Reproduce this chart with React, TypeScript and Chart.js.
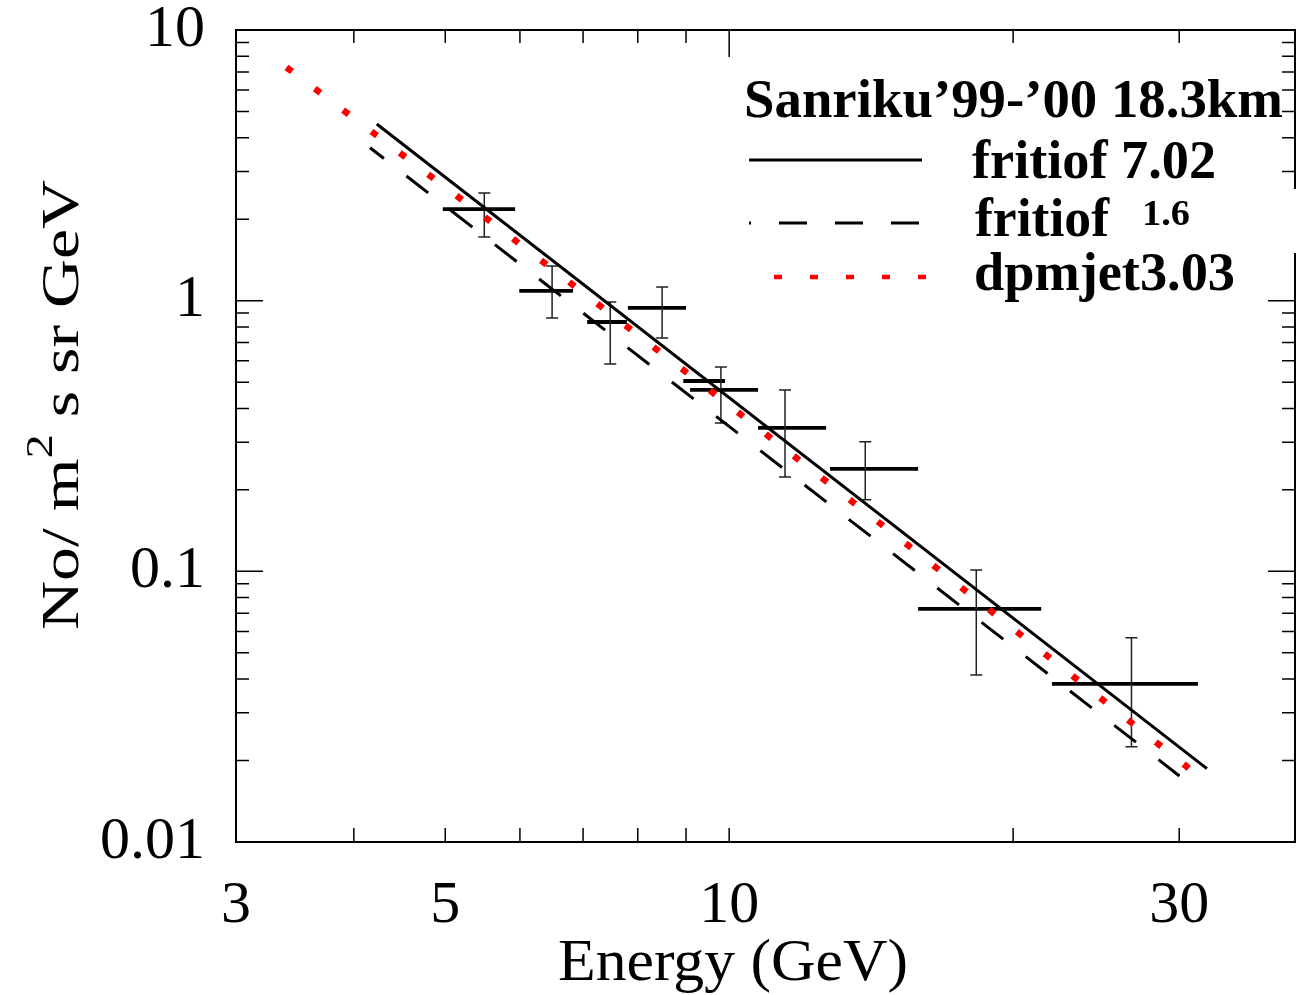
import { useEffect, useRef } from "react";
import { Chart, registerables } from "chart.js";

Chart.register(...registerables);

// ---------- data ----------
const xTickValues = [3, 5, 10, 30];
const xTickLabels = ["3", "5", "10", "30"];
const yTickValues = [0.01, 0.1, 1, 10];
const yTickLabels = ["0.01", "0.1", "1", "10"];
const xMinorTicks = [4, 5, 6, 7, 8, 9, 20, 30];
const xMajorTicks = [10];
const yMinorTicks = [
  0.02, 0.03, 0.04, 0.05, 0.06, 0.07, 0.08, 0.09,
  0.2, 0.3, 0.4, 0.5, 0.6, 0.7, 0.8, 0.9,
  2, 3, 4, 5, 6, 7, 8, 9,
];
const yMajorTicks = [0.01, 0.1, 1, 10];

// Sanriku data points (energy centre, bin edges, flux, flux errors)
const ptE = [5.5, 6.49, 7.48, 8.49, 9.4, 9.8, 11.46, 13.94, 18.28, 26.7];
const ptELo = [4.97, 5.99, 7.07, 7.81, 8.94, 9.09, 10.73, 12.79, 15.86, 21.99];
const ptEHi = [5.93, 6.83, 7.79, 9.0, 9.9, 10.73, 12.67, 15.86, 21.42, 31.4];
const ptV = [2.18, 1.086, 0.834, 0.94, 0.505, 0.468, 0.339, 0.239, 0.0726, 0.0384];
const ptVLo = [1.72, 0.863, 0.584, 0.728, null, 0.353, 0.223, 0.184, 0.0414, 0.0225];
const ptVHi = [2.5, 1.343, 0.989, 1.124, null, 0.569, 0.468, 0.301, 0.1012, 0.0568];

// model curves
const fritiof702E = [4.23, 32.1];
const fritiof702V = [4.496, 0.01867];
const fritiof16E = [4.161, 30.02];
const fritiof16V = [3.674, 0.01754];
const dpmjetE = [3.415, 5.54, 9.61, 15.49, 30.52];
const dpmjetV = [7.16, 2.004, 0.457, 0.1245, 0.01905];

const SERIF = '"Liberation Serif", "Times New Roman", serif';

function toXY(xs: number[], ys: number[]) {
  return xs.map((x, i) => ({ x, y: ys[i] }));
}

function drawFit(
  ctx: CanvasRenderingContext2D,
  text: string,
  x: number,
  y: number,
  w: number,
  font: string
) {
  ctx.save();
  ctx.font = font;
  ctx.textAlign = "left";
  ctx.textBaseline = "alphabetic";
  const m = ctx.measureText(text).width;
  const sx = w / m;
  ctx.translate(x, y);
  ctx.scale(sx, 1);
  ctx.fillText(text, 0, 0);
  ctx.restore();
}

const errorBarPlugin = {
  id: "errorBars",
  beforeDatasetsDraw(chart: any) {
    const { ctx, scales } = chart;
    const xs = scales.x;
    const ys = scales.y;
    ctx.save();
    for (let i = 0; i < ptE.length; i++) {
      const py = ys.getPixelForValue(ptV[i]);
      const x0 = xs.getPixelForValue(ptELo[i]);
      const x1 = xs.getPixelForValue(ptEHi[i]);
      ctx.strokeStyle = "#000";
      ctx.lineWidth = 3.8;
      ctx.beginPath();
      ctx.moveTo(x0, py);
      ctx.lineTo(x1, py);
      ctx.stroke();
      const lo = ptVLo[i];
      const hi = ptVHi[i];
      if (lo != null && hi != null) {
        const px = xs.getPixelForValue(ptE[i]);
        const y0 = ys.getPixelForValue(lo);
        const y1 = ys.getPixelForValue(hi);
        ctx.strokeStyle = "#222";
        ctx.lineWidth = 1.5;
        ctx.beginPath();
        ctx.moveTo(px, y0);
        ctx.lineTo(px, y1);
        ctx.moveTo(px - 6, y0);
        ctx.lineTo(px + 6, y0);
        ctx.moveTo(px - 6, y1);
        ctx.lineTo(px + 6, y1);
        ctx.stroke();
      }
    }
    ctx.restore();
  },
};

const framePlugin = {
  id: "frame",
  afterDraw(chart: any) {
    const { ctx, chartArea, scales } = chart;
    const { left, right, top, bottom } = chartArea;
    const xs = scales.x;
    const ys = scales.y;
    ctx.save();
    ctx.strokeStyle = "#000";
    ctx.lineWidth = 2;
    ctx.strokeRect(left, top, right - left, bottom - top);

    ctx.lineWidth = 1.5;
    ctx.beginPath();
    const minorLen = 13;
    const majorLen = 27;
    for (const v of yMinorTicks) {
      const p = ys.getPixelForValue(v);
      ctx.moveTo(left, p);
      ctx.lineTo(left + minorLen, p);
      ctx.moveTo(right, p);
      ctx.lineTo(right - minorLen, p);
    }
    for (const v of yMajorTicks) {
      const p = ys.getPixelForValue(v);
      ctx.moveTo(left, p);
      ctx.lineTo(left + majorLen, p);
      ctx.moveTo(right, p);
      ctx.lineTo(right - majorLen, p);
    }
    for (const v of xMinorTicks) {
      const p = xs.getPixelForValue(v);
      ctx.moveTo(p, top);
      ctx.lineTo(p, top + minorLen);
      ctx.moveTo(p, bottom);
      ctx.lineTo(p, bottom - minorLen - 1);
    }
    for (const v of xMajorTicks) {
      const p = xs.getPixelForValue(v);
      ctx.moveTo(p, top);
      ctx.lineTo(p, top + majorLen);
      ctx.moveTo(p, bottom);
      ctx.lineTo(p, bottom - minorLen - 1);
    }
    ctx.stroke();

    // small gap in right border behind the legend
    ctx.fillStyle = "#fff";
    ctx.fillRect(right - 16, 189, 20, 64);

    // axis titles
    ctx.fillStyle = "#000";
    drawFit(ctx, "Energy (GeV)", 558, 980, 350, `60px ${SERIF}`);

    ctx.save();
    ctx.translate(78, 630);
    ctx.rotate(-Math.PI / 2);
    const parts: [string, number, number][] = [
      ["No/ m", 53, 0],
      ["2", 38, -26],
      [" s sr GeV", 53, 0],
    ];
    let total = 0;
    for (const [t, s] of parts) {
      ctx.font = `${s}px ${SERIF}`;
      total += ctx.measureText(t).width;
    }
    ctx.scale(450 / total, 1);
    let cx = 0;
    for (const [t, s, dy] of parts) {
      ctx.font = `${s}px ${SERIF}`;
      ctx.fillText(t, cx, dy);
      cx += ctx.measureText(t).width;
    }
    ctx.restore();

    // legend
    const bold = (s: number) => `bold ${s}px ${SERIF}`;
    drawFit(ctx, "Sanriku\u201999-\u201900 18.3km", 744, 117, 539, bold(54));

    ctx.strokeStyle = "#000";
    ctx.lineWidth = 3;
    ctx.beginPath();
    ctx.moveTo(749, 160);
    ctx.lineTo(922, 160);
    ctx.stroke();
    drawFit(ctx, "fritiof 7.02", 972, 178, 244, bold(54));

    ctx.setLineDash([28, 28]);
    ctx.lineDashOffset = 26;
    ctx.beginPath();
    ctx.moveTo(749, 223);
    ctx.lineTo(922, 223);
    ctx.stroke();
    drawFit(ctx, "fritiof", 975, 236, 134, bold(54));
    drawFit(ctx, "1.6", 1142, 225, 48, bold(36));

    ctx.strokeStyle = "#ff0000";
    ctx.lineWidth = 4.5;
    ctx.setLineDash([8, 28]);
    ctx.lineDashOffset = 0;
    ctx.beginPath();
    ctx.moveTo(774, 277);
    ctx.lineTo(926, 277);
    ctx.stroke();
    ctx.setLineDash([]);
    drawFit(ctx, "dpmjet3.03", 974, 290, 261, bold(54));

    ctx.restore();
  },
};

export default function App() {
  const ref = useRef<HTMLCanvasElement | null>(null);

  useEffect(() => {
    document.body.style.margin = "0";
    const canvas = ref.current;
    if (!canvas) return;
    const chart = new Chart(canvas, {
      type: "line",
      data: {
        datasets: [
          {
            label: "dpmjet3.03",
            data: toXY(dpmjetE, dpmjetV),
            borderColor: "#ff0000",
            borderWidth: 6.5,
            borderDash: [0.5, 35],
            borderCapStyle: "square",
            pointRadius: 0,
            fill: false,
            tension: 0,
          },
          {
            label: "fritiof 7.02",
            data: toXY(fritiof702E, fritiof702V),
            borderColor: "#000",
            borderWidth: 3,
            pointRadius: 0,
            fill: false,
          },
          {
            label: "fritiof 1.6",
            data: toXY(fritiof16E, fritiof16V),
            borderColor: "#000",
            borderWidth: 3,
            borderDash: [27.5, 28.5],
            borderDashOffset: 9.9,
            pointRadius: 0,
            fill: false,
          },
        ],
      },
      options: {
        responsive: false,
        animation: false,
        devicePixelRatio: 1,
        layout: { padding: { left: 0, right: 3, top: 30, bottom: 0 } },
        plugins: {
          legend: { display: false },
          tooltip: { enabled: false },
        },
        scales: {
          x: {
            type: "logarithmic",
            position: "bottom",
            min: 3,
            max: 39.8,
            grid: { display: false, drawTicks: false },
            border: { display: false },
            ticks: {
              autoSkip: false,
              maxRotation: 0,
              minRotation: 0,
              padding: 28,
              color: "#000",
              font: { family: SERIF, size: 60 },
              callback: (_v: any, i: number) => xTickLabels[i],
            },
            afterBuildTicks: (s: any) => {
              s.ticks = xTickValues.map((v) => ({ value: v }));
            },
            afterFit: (s: any) => {
              s.height = 153;
              s.paddingLeft = 0;
              s.paddingRight = 0;
              s.paddingTop = 0;
              s.paddingBottom = 0;
            },
          },
          y: {
            type: "logarithmic",
            position: "left",
            min: 0.01,
            max: 10,
            grid: { display: false, drawTicks: false },
            border: { display: false },
            ticks: {
              autoSkip: false,
              padding: 31,
              color: "#000",
              font: { family: SERIF, size: 60 },
              callback: (_v: any, i: number) => yTickLabels[i],
            },
            afterBuildTicks: (s: any) => {
              s.ticks = yTickValues.map((v) => ({ value: v }));
            },
            afterFit: (s: any) => {
              s.width = 236;
              s.paddingLeft = 0;
              s.paddingRight = 0;
              s.paddingTop = 0;
              s.paddingBottom = 0;
            },
          },
        },
      } as any,
      plugins: [errorBarPlugin, framePlugin],
    });
    return () => chart.destroy();
  }, []);

  return (
    <div style={{ width: 1298, height: 995, background: "#fff" }}>
      <canvas ref={ref} width={1298} height={995} style={{ display: "block" }} />
    </div>
  );
}
